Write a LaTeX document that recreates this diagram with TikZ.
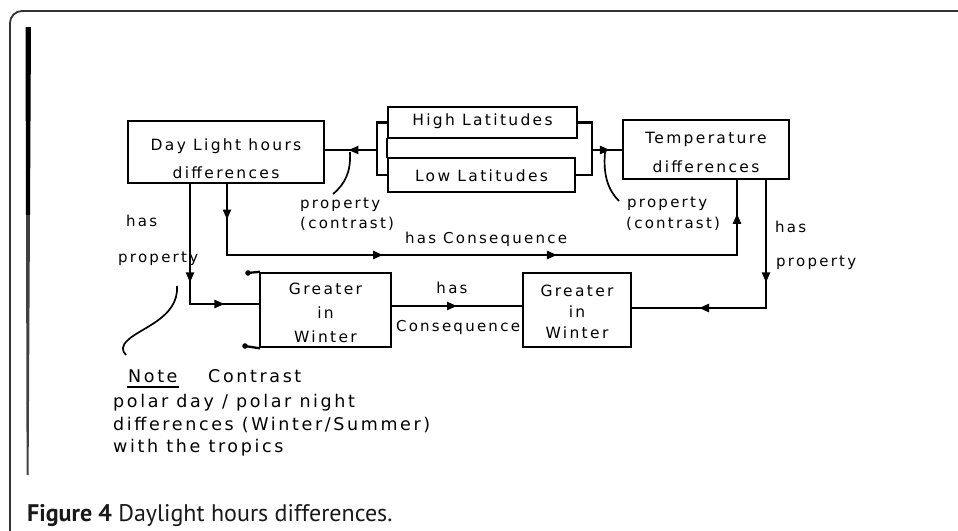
\documentclass[tikz,border=0pt]{standalone}
\usepackage{fontspec}
\setmainfont{DejaVu Sans}
\newfontfamily\hand[LetterSpace=15]{DejaVu Sans}
\newfontfamily\capfont{PT Sans}
\usetikzlibrary{arrows.meta,decorations.markings}

\begin{document}
\begin{tikzpicture}[x=1pt,y=-1pt,
  ink/.style={line width=2.3pt, draw=black, line cap=rect},
  thin ink/.style={line width=1.7pt, draw=black},
  conceptbox/.style={ink, rectangle, inner sep=0pt},
  boxtext/.style={inner sep=0pt, align=center, font=\hand\fontsize{15.5}{#1}\selectfont},
  lbl/.style={inner sep=0pt, font=\hand\fontsize{15}{18}\selectfont},
  notetext/.style={inner sep=0pt, font=\hand\fontsize{17.5}{20}\selectfont},
  captext/.style={inner sep=0pt, text=black!90, font=\capfont\fontsize{24}{28}\selectfont},
  tip/.style={postaction={decorate}, decoration={markings,
    mark=at position #1 with {\arrow{Triangle[length=10pt,width=8pt]}}}},
  twotips/.style 2 args={postaction={decorate}, decoration={markings,
    mark=at position #1 with {\arrow{Triangle[length=10pt,width=8pt]}},
    mark=at position #2 with {\arrow{Triangle[length=10pt,width=8pt]}}}},
]
\useasboundingbox (0,0) rectangle (958,530);

% page frame and margin bar
\begin{scope}
  \clip (0,0) rectangle (958,530);
  \draw[line width=1.8pt, black!80, rounded corners=12pt] (10,545) -- (10,11) -- (975,11);
\end{scope}
\fill[black] (25.5,27) -- (31,27) -- (30,215) -- (26,215) -- cycle;
\fill[black!75] (26,215) -- (30,215) -- (28.6,475) -- (26.6,475) -- cycle;

% concept boxes
\node[conceptbox, minimum width=196pt, minimum height=62pt,
  label={[boxtext=28pt, yshift=-7pt]center:Day Light hours\\differences}] (dlh) at (226,152) {};
\node[conceptbox, minimum width=189pt, minimum height=31pt,
  label={[boxtext=20pt, yshift=1pt]center:High Latitudes}] (high) at (482.5,122.5) {};
\node[conceptbox, minimum width=187pt, minimum height=34pt,
  label={[boxtext=20pt, yshift=-1pt]center:Low Latitudes}] (low) at (481.5,175) {};
\node[conceptbox, minimum width=166pt, minimum height=59pt,
  label={[boxtext=29pt, yshift=-3pt]center:Temperature\\differences}] (temp) at (706,149.5) {};
\node[conceptbox, minimum width=131pt, minimum height=74pt,
  label={[boxtext=24pt, yshift=-3pt]center:Greater\\in\\Winter}] (gw1) at (325.5,310) {};
\node[conceptbox, minimum width=108pt, minimum height=74pt,
  label={[boxtext=21pt, yshift=-2pt]center:Greater\\in\\Winter}] (gw2) at (577,310) {};

% latitude brackets
\coordinate (lb) at (377,150);
\coordinate (rb) at (592,150);
\draw[ink] (high.south west) -- (low.north west);
\draw[ink] (high.west) -| (lb) |- (low.west);
\draw[ink, tip=0.55] (lb) -- (lb -| dlh.east);
\draw[ink, tip=0.6] (rb) -- (rb -| temp.west);
\draw[ink] (high.east) -| (rb) |- (low.east);

% has Consequence loop
\coordinate (hcL) at (227,255);
\coordinate (hcR) at (737,255);
\draw[ink, tip=0.5] (dlh.south -| hcL) -- (hcL);
\draw[ink, twotips={0.306}{0.647}] (hcL) -- (hcR);
\draw[ink, tip=0.55] (hcR) -- (temp.south -| hcR);

% has property, left
\coordinate (hpL) at (190,304);
\draw[ink, tip=0.82] (dlh.south -| hpL) -- (hpL);
\draw[ink, tip=0.5] (hpL) -- (hpL -| gw1.west);

% has Consequence, bottom
\coordinate (mc) at (457,306);
\draw[ink, tip=0.5] (mc -| gw1.east) -- (mc -| gw2.west);

% has property, right
\coordinate (hpR) at (766,308);
\draw[ink, tip=0.8] (temp.south -| hpR) -- (hpR);
\draw[ink, tip=0.5] (hpR) -- (hpR -| gw2.east);

% ticks at the left box corners
\coordinate (d1) at (248,273);
\coordinate (d2) at (245,346);
\draw[ink] (gw1.north west) -- (d1);
\draw[ink] (gw1.south west) -- (d2);
\fill (d1) circle (2.8pt);
\fill (d2) circle (2.8pt);

% pointer curves
\coordinate (cL0) at (350,152);
\coordinate (cL1) at (333,194);
\draw[thin ink] (cL0) .. controls (351,172) and (345,184) .. (cL1);
\coordinate (cR0) at (605,152);
\coordinate (cR1) at (619,201);
\draw[thin ink] (cR0) .. controls (603,175) and (608,190) .. (cR1);
\coordinate (n0) at (177,286);
\coordinate (n1) at (126,355);
\draw[thin ink] (n0) .. controls (179,318) and (140,328) .. (128,340) .. controls (121,346) and (122,351) .. (n1);

% labels
\node[lbl, anchor=base west] (hasL) at (126,226) {has};
\node[lbl, anchor=base west] (propL) at (118,262) {property};
\node[lbl, anchor=base west] (pcLa) at (300,208) {property};
\node[lbl, anchor=base west] (pcLb) at (300,228) {(contrast)};
\node[lbl, anchor=base west] (pcRa) at (627,207) {property};
\node[lbl, anchor=base west] (pcRb) at (626,228) {(contrast)};
\node[lbl, anchor=base west] (hascons) at (405,243) {has Consequence};
\node[lbl, anchor=base west] (hasR) at (775,232) {has};
\node[lbl, anchor=base west] (propR) at (776,266) {property};
\node[lbl, anchor=base] (hasM) at (452,293) {has};
\node[lbl, anchor=base] (consM) at (458,331) {Consequence};

% note
\node[notetext, anchor=base west] (note) at (128,382) {Note};
\draw[ink] ([yshift=-5pt]note.base west) -- ([yshift=-5pt]note.base east);
\node[notetext, anchor=base west] (contrast) at (208,382) {Contrast};
\node[notetext, anchor=base west] (nl1) at (113,407) {polar day / polar night};
\node[notetext, anchor=base west] (nl2) at (113,430) {differences (Winter/Summer)};
\node[notetext, anchor=base west] (nl3) at (113,452) {with the tropics};

% caption
\node[captext, anchor=base west] (cap) at (27,521)
  {\textbf{Figure 4} Daylight hours differences.};
\end{tikzpicture}
\end{document}
